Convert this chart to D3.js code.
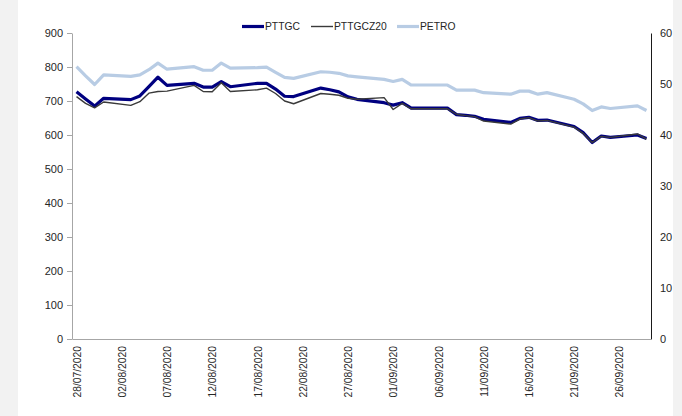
<!DOCTYPE html>
<html>
<head>
<meta charset="utf-8">
<script src="https://cdn.jsdelivr.net/npm/d3@7"></script>
<style>
  html, body { margin: 0; padding: 0; background: #ffffff; }
  svg { display: block; }
  text { font-family: "Liberation Sans", Arial, sans-serif; fill: #262626; }
</style>
</head>
<body>
<svg id="chart" width="682" height="416"></svg>
<script>
// ---- data ----
const dates = [
  "2020-07-28","2020-07-29","2020-07-30","2020-07-31",
  "2020-08-03","2020-08-04","2020-08-05","2020-08-06","2020-08-07",
  "2020-08-10","2020-08-11","2020-08-12","2020-08-13","2020-08-14",
  "2020-08-17","2020-08-18","2020-08-19","2020-08-20","2020-08-21",
  "2020-08-24","2020-08-25","2020-08-26","2020-08-27","2020-08-28",
  "2020-08-31","2020-09-01","2020-09-02","2020-09-03","2020-09-04",
  "2020-09-07","2020-09-08","2020-09-09","2020-09-10","2020-09-11",
  "2020-09-14","2020-09-15","2020-09-16","2020-09-17","2020-09-18",
  "2020-09-21","2020-09-22","2020-09-23","2020-09-24","2020-09-25",
  "2020-09-28","2020-09-29"
];
const pttgc = [
  727,706,685,708,
  704,715,742,770,746,
  752,741,741,757,742,
  752,752,735,714,713,
  738,733,727,712,705,
  695,688,695,679,679,
  679,660,658,655,646,
  637,649,652,643,644,
  625,607,578,597,593,
  600,590
];
const pttgcz20 = [
  713,693,680,697,
  687,698,723,728,729,
  746,728,727,754,728,
  733,738,722,700,692,
  722,720,717,708,705,
  710,675,693,677,677,
  677,661,657,654,641,
  632,647,651,641,643,
  623,605,578,596,593,
  603,588
];
const petro = [
  53.4,51.6,49.9,51.8,
  51.5,51.8,52.8,54.1,52.9,
  53.4,52.7,52.7,54.1,53.1,
  53.2,53.3,52.3,51.3,51.1,
  52.4,52.3,52.1,51.6,51.4,
  50.9,50.5,50.9,49.8,49.8,
  49.8,48.8,48.8,48.8,48.3,
  48.0,48.6,48.6,48.0,48.3,
  47.0,46.1,44.8,45.5,45.2,
  45.7,44.8
];
const leftTicks = [0,100,200,300,400,500,600,700,800,900];
const rightTicks = [0,10,20,30,40,50,60];
const xTickLabels = ["28/07/2020","02/08/2020","07/08/2020","12/08/2020","17/08/2020","22/08/2020",
  "27/08/2020","01/09/2020","06/09/2020","11/09/2020","16/09/2020","21/09/2020","26/09/2020"];
const seriesNames = ["PTTGC","PTTGCZ20","PETRO"];

// ---- layout ----
const W = 682, H = 416;
const L = 72, R = 651, T = 33, B = 339;
const svg = d3.select("#chart");

// side gray strips
svg.append("rect").attr("x",0).attr("y",0).attr("width",18).attr("height",H).attr("fill","#f2f2f2");
svg.append("rect").attr("x",673).attr("y",0).attr("width",W-673).attr("height",H).attr("fill","#f2f2f2");

const parse = d3.timeParse("%Y-%m-%d");
const parseLbl = d3.timeParse("%d/%m/%Y");
const fmt = d3.timeFormat("%d/%m/%Y");
const dts = dates.map(parse);

const x0 = d3.timeHour.offset(parse("2020-07-28"), -12);
const x1 = d3.timeHour.offset(parse("2020-09-29"), 12);
const x = d3.scaleTime().domain([x0, x1]).range([L, R]);
const yL = d3.scaleLinear().domain([0, 900]).range([B, T]);
const yR = d3.scaleLinear().domain([0, 60]).range([B, T]);

// left axis
const gL = svg.append("g").attr("transform",`translate(${L},0)`)
  .call(d3.axisLeft(yL).tickValues(leftTicks).tickSize(5).tickPadding(4).tickSizeOuter(0));
gL.select(".domain").attr("stroke","#a6a6a6");
gL.selectAll(".tick line").attr("stroke","#a6a6a6");
gL.selectAll(".tick text").style("font-size","11px").style("font-family","Liberation Sans, Arial, sans-serif").attr("fill","#262626");

// right axis
const gR = svg.append("g").attr("transform",`translate(${R},0)`)
  .call(d3.axisRight(yR).tickValues(rightTicks).tickSize(0).tickPadding(9).tickSizeOuter(0));
gR.select(".domain").attr("stroke","#1a1a1a");
gR.selectAll(".tick text").style("font-size","11px").style("font-family","Liberation Sans, Arial, sans-serif").attr("fill","#262626");

// bottom axis
const gB = svg.append("g").attr("transform",`translate(0,${B})`)
  .call(d3.axisBottom(x).tickValues(xTickLabels.map(parseLbl)).tickSize(0).tickFormat(fmt).tickSizeOuter(0));
gB.select(".domain").attr("stroke","#a6a6a6");
gB.selectAll(".tick text")
  .style("font-size","10.3px").style("font-family","Liberation Sans, Arial, sans-serif").attr("fill","#262626")
  .attr("transform","rotate(-90)")
  .attr("text-anchor","end")
  .attr("x",-7).attr("y",0).attr("dy","0.35em");

// lines
const lineL = vals => d3.line().x((d,i)=>x(dts[i])).y(d=>yL(d))(vals);
const lineR = vals => d3.line().x((d,i)=>x(dts[i])).y(d=>yR(d))(vals);

svg.append("path").attr("d", lineR(petro)).attr("fill","none")
  .attr("stroke","#b8cce4").attr("stroke-width",3.2).attr("stroke-linejoin","round");
svg.append("path").attr("d", lineL(pttgc)).attr("fill","none")
  .attr("stroke","#000080").attr("stroke-width",3.2).attr("stroke-linejoin","round");
svg.append("path").attr("d", lineL(pttgcz20)).attr("fill","none")
  .attr("stroke","#3a3a3a").attr("stroke-width",1.4).attr("stroke-linejoin","round");

// legend
const legend = [
  {name: seriesNames[0], color:"#000080", w:3.2, x:242},
  {name: seriesNames[1], color:"#3a3a3a", w:1.4, x:311},
  {name: seriesNames[2], color:"#b8cce4", w:3.2, x:397}
];
const lg = svg.append("g");
legend.forEach(d => {
  lg.append("line").attr("x1",d.x).attr("x2",d.x+22).attr("y1",26.5).attr("y2",26.5)
    .attr("stroke",d.color).attr("stroke-width",d.w);
  lg.append("text").attr("x",d.x+23).attr("y",30.3).text(d.name)
    .style("font-size","10.3px");
});
</script>
</body>
</html>
